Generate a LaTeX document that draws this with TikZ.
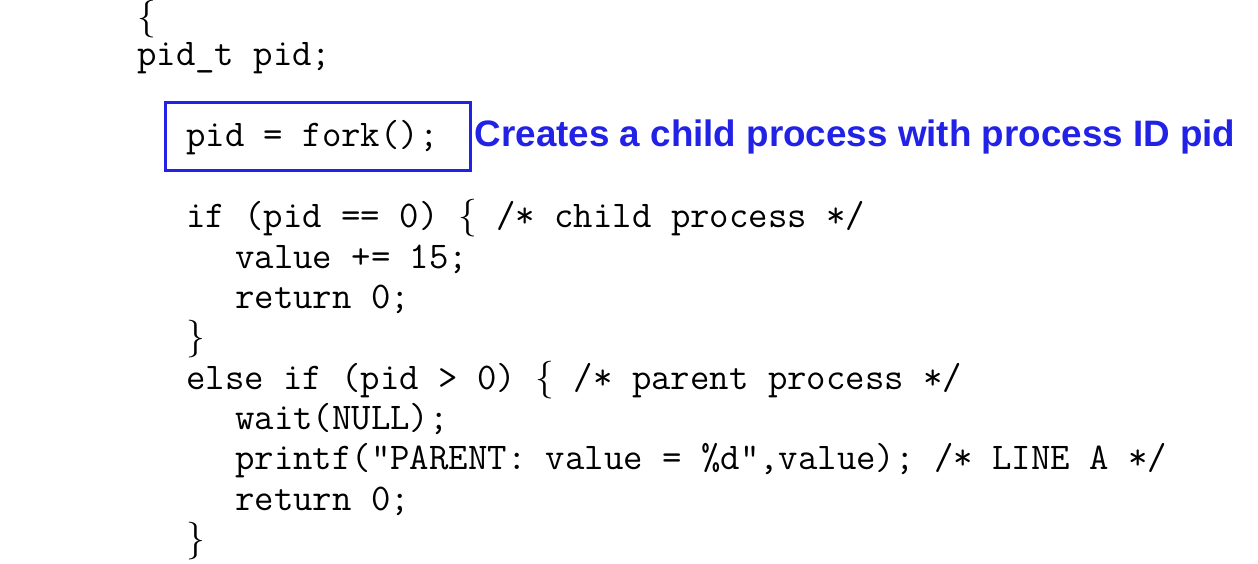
\documentclass[tikz,border=0pt]{standalone}
\usepackage{fontspec}
\newfontfamily\notefont{Liberation Sans}
\usetikzlibrary{positioning}
\definecolor{noteblue}{RGB}{34,34,230}
\newcommand{\lbr}{{\rmfamily\{}}
\newcommand{\rbr}{{\rmfamily\}}}

\begin{document}
\begin{tikzpicture}[x=1pt, y=-1pt, code/.style={anchor=base west, inner sep=0pt, font=\fontsize{37.7}{40}\selectfont\ttfamily}]
        \useasboundingbox (0,0) rectangle (1258,564);
        % Code lines
        \node (open) [code] at (137,28.5) {\lbr};
        \node (decl) [code] at (137,66) {pid\_t pid;};
        \node (fork) [code] at (186,147) {pid = fork();};
        \node (ifchild) [code] at (186,227.5) {if (pid == 0) \lbr{} /* child process */};
        \node (addval) [code] at (235,268) {value += 15;};
        \node (retchild) [code] at (235,308) {return 0;};
        \node (closechild) [code] at (186,348.5) {\rbr};
        \node (elseparent) [code] at (186,389) {else if (pid > 0) \lbr{} /* parent process */};
        \node (waitcall) [code] at (235,429) {wait(NULL);};
        \node (printcall) [code] at (235,469.5) {printf("PARENT: value = \%d",value); /* LINE A */};
        \node (retparent) [code] at (235,510) {return 0;};
        \node (closeparent) [code] at (186,550) {\rbr};

        % Box and annotation
        \node (forkbox) [draw=noteblue, line width=3pt, minimum width=305pt, minimum height=68pt, anchor=north west] at (163.5,101.5) {};
        \node (note) [anchor=base west, inner sep=0pt, text=noteblue, font=\fontsize{36.8}{40}\selectfont\notefont\bfseries] at ([xshift=3pt]forkbox.east |- fork.base) {Creates a child process with process ID pid};
    \end{tikzpicture}
\end{document}
